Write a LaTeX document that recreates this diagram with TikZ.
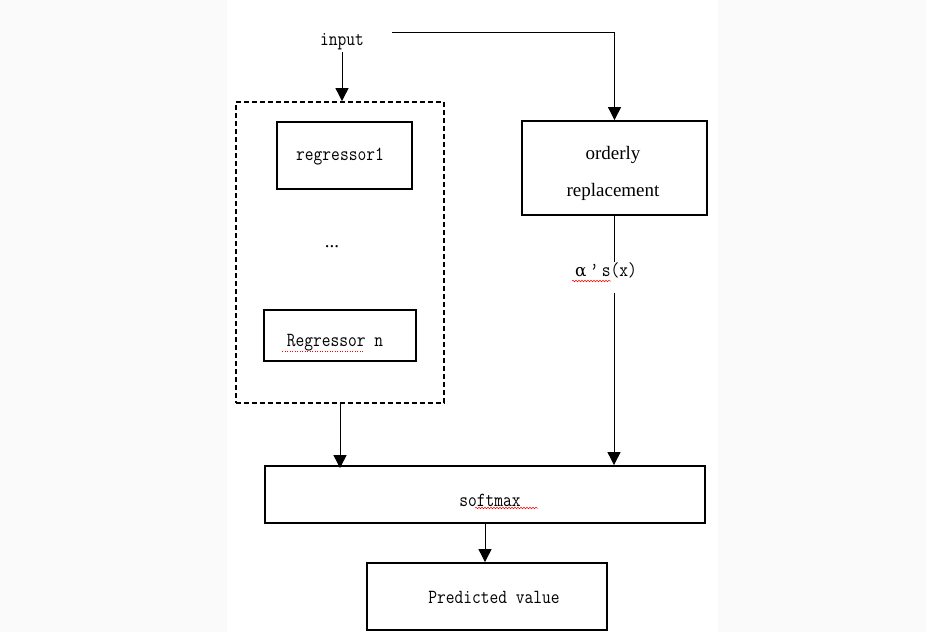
\documentclass[tikz,border=0pt]{standalone}
\usepackage{fontspec}
\setmainfont{Liberation Serif}
\newfontfamily\monof[FakeStretch=0.85]{Latin Modern Mono}
\newfontfamily\greekf{DejaVu Serif}
\usetikzlibrary{arrows.meta,decorations.pathmorphing}
\begin{document}
\begin{tikzpicture}[x=1pt,y=-1pt,
  box/.style={draw,line width=1.8pt,inner sep=0pt},
  dbox/.style={draw,line width=1.8pt,inner sep=0pt,dash pattern=on 5pt off 3pt},
  mtext/.style={inner sep=0pt,font=\monof\fontsize{20}{24}\selectfont},
  stext/.style={inner sep=0pt,font=\fontsize{19}{22}\selectfont},
  conn/.style={line width=0.9pt},
  arr/.style={line width=0.9pt,-{Triangle[length=13pt,width=13pt]}},
  wavy/.style={red,line width=0.5pt,decorate,decoration={snake,segment length=3pt,amplitude=0.8pt}}]
\useasboundingbox (0,0) rectangle (926,632);
\fill[black!2] (0,0) rectangle (227,632);
\fill[black!2] (718,0) rectangle (926,632);
% boxes
\node[dbox,minimum width=208,minimum height=301] (grp) at (340,252.5) {};
\node[box,minimum width=135,minimum height=67] (r1) at (344.5,155.5) {};
\node[box,minimum width=152,minimum height=51] (rn) at (340,335.5) {};
\node[box,minimum width=185,minimum height=94] (ord) at (614.5,168) {};
\node[box,minimum width=440,minimum height=57] (soft) at (485,494.5) {};
\node[box,minimum width=240,minimum height=67] (pred) at (487,596.5) {};
% texts
\node[mtext] (in) at (342,42) {input};
\node[mtext] (r1t) at (340,157) {regressor1};
\node[stext] (dots) at (332,247) {...};
\node[mtext] (rnt) at (335,343) {Regressor n};
\node[stext] (ord1) at (613,155) {orderly};
\node[stext] (ord2) at (613,192) {replacement};
\node[mtext] (alpha) at (606,270) {{\greekf\fontsize{17}{20}\selectfont α}\,’\,s(x)};
\node[mtext] (softt) at (490,500) {softmax};
\node[mtext] (predt) at (494,597) {Predicted value};
% spell-check underlines
\draw[wavy] (572,281) -- (611,281);
\draw[wavy] (475,508) -- (538,508);
\draw[red,line width=0.5pt,dotted] (282,351) -- (364,351);
% connectors
\coordinate (c1) at (392,32);
\coordinate (a1) at (614,262);
\coordinate (a2) at (614,293);
\draw[arr] (in.south |- 0,52) -- (in.south |- grp.north);
\draw[arr] (c1) -| (ord.north);
\draw[conn] (ord.south -| a1) -- (a1);
\draw[arr] (a2) -- (a2 |- soft.north);
\draw[arr] (grp.south) -- ([yshift=-3pt]grp.south |- soft.north);
\draw[arr] (soft.south) -- (soft.south |- pred.north);
\end{tikzpicture}
\end{document}
